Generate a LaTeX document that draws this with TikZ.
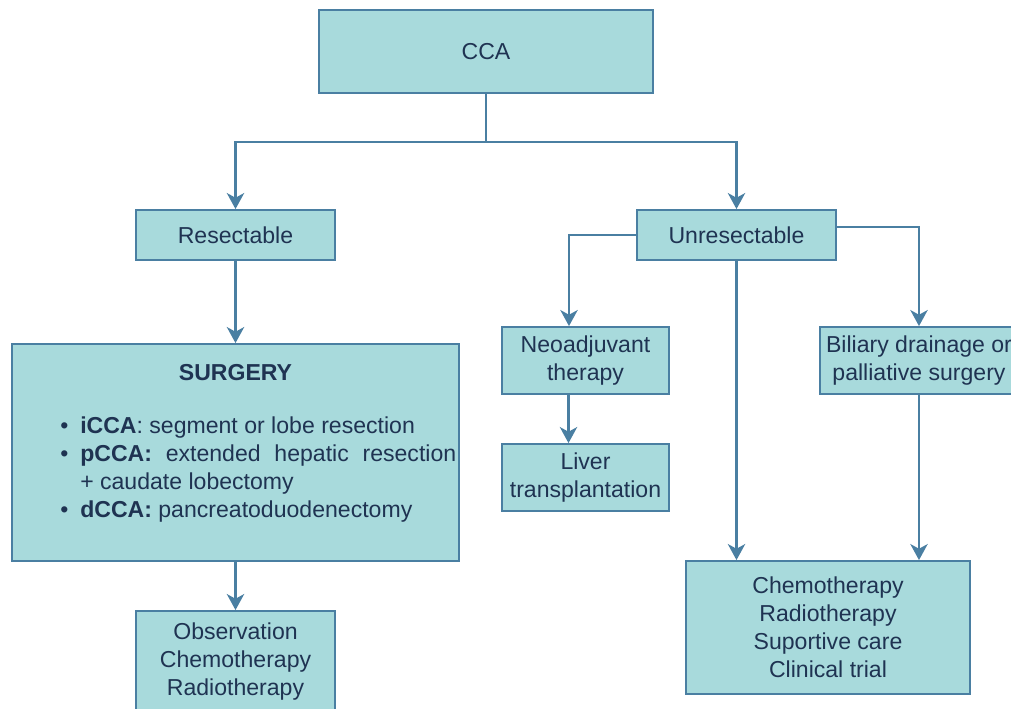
\documentclass[tikz,border=0pt]{standalone}
\usepackage{fontspec}
\setmainfont{Liberation Sans}
\usetikzlibrary{arrows.meta,calc}
\definecolor{fillc}{HTML}{A8DADC}
\definecolor{edge}{HTML}{4A7FA2}
\definecolor{txt}{HTML}{1F3352}
\tikzset{
  bx/.style 2 args={draw=edge, fill=fillc, line width=1.4pt,
    minimum width=#1*0.75pt, minimum height=#2*0.75pt, inner sep=0pt,
    text=txt, align=center, font=\fontsize{17.3}{21}\selectfont},
  lbl/.style={text=txt, inner sep=0pt, font=\fontsize{17.3}{21}\selectfont},
  conn/.style={draw=edge, line width=1.7pt},
  arr/.style={conn, -{Stealth[length=12pt,width=13pt,inset=3.5pt]}}
}
\begin{document}
\begin{tikzpicture}[x=0.75pt,y=-0.75pt]
\useasboundingbox (0,0) rectangle (1011,708);
\clip (0,0) rectangle (1011,708);
% boxes
\node[bx={334}{83}] (cca) at (486,51.5) {CCA};
\node[bx={199}{50}] (res) at (235.5,235) {Resectable};
\node[bx={199}{50}] (unres) at (736.5,235) {Unresectable};
\node[bx={447}{217}] (surg) at (235.5,452.5) {};
\node[lbl, font=\fontsize{17.3}{21}\selectfont\bfseries] (surgtitle) at (235.5,373) {SURGERY};
\node[lbl, anchor=west] (surglist) at (60,470) {%
  \begin{tabular}{@{}p{15pt}@{}l@{}}
  \textbullet & \textbf{iCCA}: segment or lobe resection\\
  \textbullet & \hbox to 282pt{\textbf{pCCA:}\hfill extended\hfill hepatic\hfill resection}\\
   & + caudate lobectomy\\
  \textbullet & \textbf{dCCA:} pancreatoduodenectomy
  \end{tabular}};
\node[bx={199}{102}] (obs) at (235.5,662) {Observation\\Chemotherapy\\Radiotherapy};
\node[bx={167}{67}] (neo) at (585.5,360.5) {Neoadjuvant\\therapy};
\node[bx={167}{67}] (liver) at (585.5,477.5) {Liver\\transplantation};
\node[bx={198}{67}] (bil) at (919,360.5) {Biliary drainage or\\palliative surgery};
\node[bx={284}{133}] (chemo) at (828,627.5) {Chemotherapy\\Radiotherapy\\Suportive care\\Clinical trial};
% connectors
\coordinate (j) at (486,142);
\draw[conn] (cca.south) -- (j);
\draw[arr] (j) -| (res.north);
\draw[arr] (j) -| (unres.north);
\draw[arr] (res.south) -- (surg.north);
\draw[arr] (surg.south) -- (obs.north);
\draw[arr] (unres.west) -| ($(neo.north)+(-16.5,0)$);
\draw[arr] ($(neo.south)+(-17,0)$) -- ($(liver.north)+(-17,0)$);
\draw[arr] ($(unres.east)+(0,-8)$) -| (bil.north);
\draw[arr] (unres.south) -- (unres.south |- chemo.north);
\draw[arr] (bil.south) -- (bil.south |- chemo.north);
\end{tikzpicture}
\end{document}
